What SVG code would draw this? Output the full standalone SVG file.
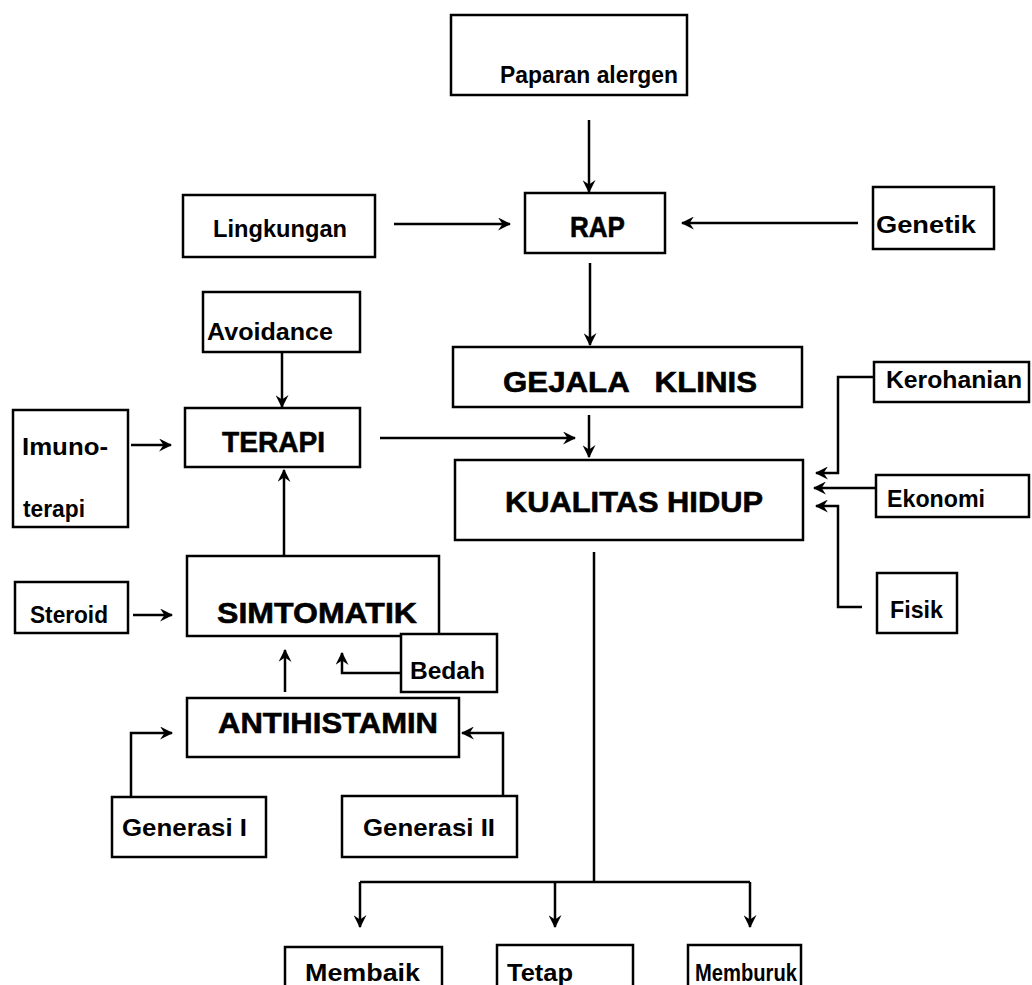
<svg xmlns="http://www.w3.org/2000/svg" width="1032" height="985" viewBox="0 0 1032 985">
<style>
.box{fill:#fff;stroke:#000;stroke-width:2.5}
.t{font-family:"Liberation Sans",Arial,sans-serif;font-weight:bold;font-size:24px;fill:#000}
.b{font-family:"Liberation Sans",Arial,sans-serif;font-weight:bold;font-size:30px;fill:#000;stroke:#000;stroke-width:0.6}
.c{fill:none;stroke:#000;stroke-width:2.5}
.ca{fill:none;stroke:#000;stroke-width:2.5;marker-end:url(#ah)}
</style>
<defs>
<marker id="ah" viewBox="0 0 12 12" refX="11" refY="6" markerWidth="13" markerHeight="13" markerUnits="userSpaceOnUse" orient="auto">
<path d="M0,0 L12,6 L0,12 L4,6 Z" fill="#000"/>
</marker>
</defs>
<rect width="1032" height="985" fill="#fff"/>
<g id="connectors">
<path class="ca" d="M589,120 V192"/>
<path class="ca" d="M394,224 H510"/>
<path class="ca" d="M858,223 H682"/>
<path class="ca" d="M590,263 V345"/>
<path class="ca" d="M282,352 V407"/>
<path class="ca" d="M131,445 H171"/>
<path class="ca" d="M380,438 H575"/>
<path class="ca" d="M589,415 V457"/>
<path class="ca" d="M284,556 V470"/>
<path class="ca" d="M133,615 H172"/>
<path class="ca" d="M401,673 H342 V653"/>
<path class="ca" d="M285,692 V650"/>
<path class="ca" d="M131,797 V733 H172"/>
<path class="ca" d="M503,796 V733 H462"/>
<path class="ca" d="M874,377 H838 V473 H816"/>
<path class="ca" d="M876,488 H814"/>
<path class="ca" d="M862,607 H838 V506 H816"/>
<path class="c" d="M594,552 V882"/>
<path class="c" d="M360,882 H750"/>
<path class="ca" d="M360,882 V927"/>
<path class="ca" d="M555,882 V927"/>
<path class="ca" d="M750,882 V927"/>
</g>
<g id="paparan"><rect class="box" x="451" y="15" width="236" height="80"/><text class="t" x="500" y="83" textLength="178" lengthAdjust="spacingAndGlyphs">Paparan alergen</text></g>
<g id="rap"><rect class="box" x="525" y="193" width="140" height="60"/><text class="b" x="570" y="237" font-size="27" textLength="55" lengthAdjust="spacingAndGlyphs">RAP</text></g>
<g id="lingkungan"><rect class="box" x="183" y="195" width="192" height="62"/><text class="t" x="213" y="237" textLength="134" lengthAdjust="spacingAndGlyphs">Lingkungan</text></g>
<g id="genetik"><rect class="box" x="873" y="187" width="121" height="62"/><text class="t" x="876" y="233" textLength="100" lengthAdjust="spacingAndGlyphs">Genetik</text></g>
<g id="avoidance"><rect class="box" x="203" y="292" width="157" height="60"/><text class="t" x="207" y="340" textLength="126" lengthAdjust="spacingAndGlyphs">Avoidance</text></g>
<g id="gejala"><rect class="box" x="453" y="347" width="349" height="60"/><text class="b" x="503" y="392" style="white-space:pre" xml:space="preserve" textLength="254" lengthAdjust="spacingAndGlyphs">GEJALA   KLINIS</text></g>
<g id="terapi"><rect class="box" x="185" y="408" width="175" height="59"/><text class="b" x="222" y="452" font-size="26" textLength="103" lengthAdjust="spacingAndGlyphs">TERAPI</text></g>
<g id="imunoterapi"><rect class="box" x="13" y="410" width="115" height="117"/><text class="t" x="22" y="455" textLength="86" lengthAdjust="spacingAndGlyphs">Imuno-</text><text class="t" x="23" y="517" textLength="62" lengthAdjust="spacingAndGlyphs">terapi</text></g>
<g id="kualitas"><rect class="box" x="455" y="460" width="348" height="80"/><text class="b" x="505" y="512" textLength="258" lengthAdjust="spacingAndGlyphs">KUALITAS HIDUP</text></g>
<g id="kerohanian"><rect class="box" x="874" y="362" width="155" height="40"/><text class="t" x="886" y="388" textLength="136" lengthAdjust="spacingAndGlyphs">Kerohanian</text></g>
<g id="ekonomi"><rect class="box" x="876" y="475" width="153" height="42"/><text class="t" x="887" y="507" textLength="98" lengthAdjust="spacingAndGlyphs">Ekonomi</text></g>
<g id="fisik"><rect class="box" x="877" y="573" width="80" height="60"/><text class="t" x="890" y="618" textLength="53" lengthAdjust="spacingAndGlyphs">Fisik</text></g>
<g id="steroid"><rect class="box" x="15" y="582" width="113" height="51"/><text class="t" x="30" y="623" textLength="78" lengthAdjust="spacingAndGlyphs">Steroid</text></g>
<g id="simtomatik"><rect class="box" x="187" y="556" width="252" height="80"/><text class="b" x="217" y="623" textLength="200" lengthAdjust="spacingAndGlyphs">SIMTOMATIK</text></g>
<g id="bedah"><rect class="box" x="401" y="634" width="96" height="58"/><text class="t" x="410" y="679" textLength="75" lengthAdjust="spacingAndGlyphs">Bedah</text></g>
<g id="antihistamin"><rect class="box" x="187" y="698" width="272" height="59"/><text class="b" x="218" y="733" textLength="220" lengthAdjust="spacingAndGlyphs">ANTIHISTAMIN</text></g>
<g id="generasi1"><rect class="box" x="112" y="797" width="154" height="60"/><text class="t" x="122" y="836" textLength="125" lengthAdjust="spacingAndGlyphs">Generasi I</text></g>
<g id="generasi2"><rect class="box" x="342" y="796" width="175" height="61"/><text class="t" x="363" y="836" textLength="132" lengthAdjust="spacingAndGlyphs">Generasi II</text></g>
<g id="membaik"><rect class="box" x="285" y="947" width="157" height="60"/><text class="t" x="305" y="981" textLength="115" lengthAdjust="spacingAndGlyphs">Membaik</text></g>
<g id="tetap"><rect class="box" x="497" y="945" width="136" height="60"/><text class="t" x="507" y="981" textLength="66" lengthAdjust="spacingAndGlyphs">Tetap</text></g>
<g id="memburuk"><rect class="box" x="688" y="945" width="113" height="60"/><text class="t" x="695" y="981" textLength="102" lengthAdjust="spacingAndGlyphs">Memburuk</text></g>
</svg>
